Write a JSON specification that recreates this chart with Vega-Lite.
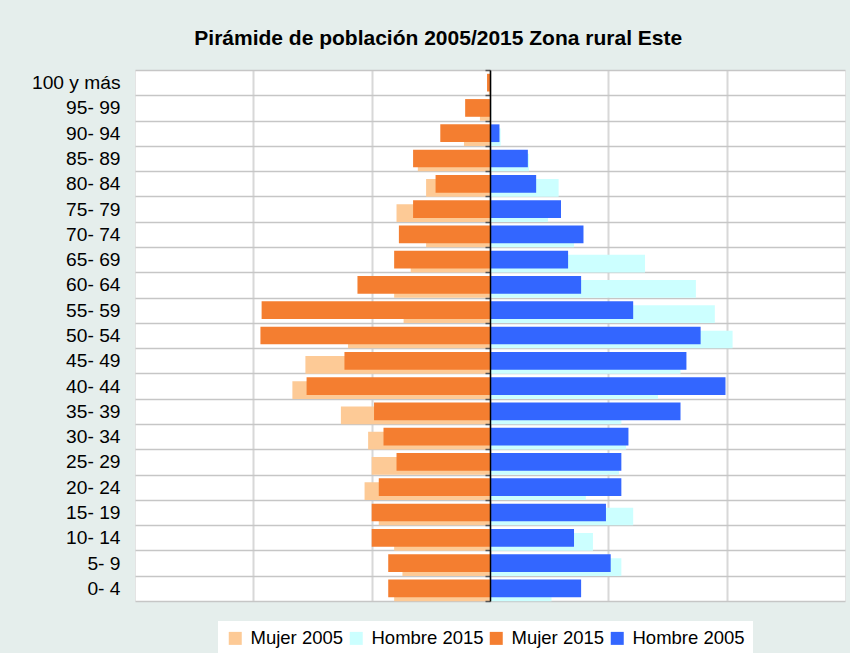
{
  "$schema": "https://vega.github.io/schema/vega-lite/v6.json",
  "width": 710,
  "height": 531,
  "autosize": "none",
  "padding": {"left": 135, "top": 70, "right": 5, "bottom": 52},
  "background": "#e5eeec",
  "title": {
    "text": "Pirámide de población 2005/2015 Zona rural Este",
    "font": "Liberation Sans",
    "fontSize": 21,
    "fontWeight": "bold",
    "color": "#000000",
    "anchor": "middle",
    "frame": "bounds",
    "baseline": "alphabetic",
    "offset": 21,
    "dy": 26
  },
  "config": {
    "view": {"fill": "#ffffff", "stroke": "#e4e4e4", "strokeWidth": 1}
  },
  "data": {
    "values": [
      {"g": "100 y más", "s": "Mujer 2005", "v": -0.01},
      {"g": "95- 99", "s": "Mujer 2005", "v": -0.085},
      {"g": "90- 94", "s": "Mujer 2005", "v": -0.22},
      {"g": "85- 89", "s": "Mujer 2005", "v": -0.61},
      {"g": "80- 84", "s": "Mujer 2005", "v": -0.54},
      {"g": "75- 79", "s": "Mujer 2005", "v": -0.79},
      {"g": "70- 74", "s": "Mujer 2005", "v": -0.54},
      {"g": "65- 69", "s": "Mujer 2005", "v": -0.67},
      {"g": "60- 64", "s": "Mujer 2005", "v": -0.81},
      {"g": "55- 59", "s": "Mujer 2005", "v": -0.73},
      {"g": "50- 54", "s": "Mujer 2005", "v": -1.20},
      {"g": "45- 49", "s": "Mujer 2005", "v": -1.56},
      {"g": "40- 44", "s": "Mujer 2005", "v": -1.67},
      {"g": "35- 39", "s": "Mujer 2005", "v": -1.26},
      {"g": "30- 34", "s": "Mujer 2005", "v": -1.03},
      {"g": "25- 29", "s": "Mujer 2005", "v": -1.00},
      {"g": "20- 24", "s": "Mujer 2005", "v": -1.06},
      {"g": "15- 19", "s": "Mujer 2005", "v": -0.94},
      {"g": "10- 14", "s": "Mujer 2005", "v": -0.81},
      {"g": "5- 9", "s": "Mujer 2005", "v": -0.74},
      {"g": "0- 4", "s": "Mujer 2005", "v": -0.81},

      {"g": "100 y más", "s": "Hombre 2015", "v": 0},
      {"g": "95- 99", "s": "Hombre 2015", "v": 0.01},
      {"g": "90- 94", "s": "Hombre 2015", "v": 0.09},
      {"g": "85- 89", "s": "Hombre 2015", "v": 0.33},
      {"g": "80- 84", "s": "Hombre 2015", "v": 0.58},
      {"g": "75- 79", "s": "Hombre 2015", "v": 0.49},
      {"g": "70- 74", "s": "Hombre 2015", "v": 0.71},
      {"g": "65- 69", "s": "Hombre 2015", "v": 1.31},
      {"g": "60- 64", "s": "Hombre 2015", "v": 1.74},
      {"g": "55- 59", "s": "Hombre 2015", "v": 1.90},
      {"g": "50- 54", "s": "Hombre 2015", "v": 2.05},
      {"g": "45- 49", "s": "Hombre 2015", "v": 1.61},
      {"g": "40- 44", "s": "Hombre 2015", "v": 1.42},
      {"g": "35- 39", "s": "Hombre 2015", "v": 1.11},
      {"g": "30- 34", "s": "Hombre 2015", "v": 1.15},
      {"g": "25- 29", "s": "Hombre 2015", "v": 1.09},
      {"g": "20- 24", "s": "Hombre 2015", "v": 0.81},
      {"g": "15- 19", "s": "Hombre 2015", "v": 1.21},
      {"g": "10- 14", "s": "Hombre 2015", "v": 0.87},
      {"g": "5- 9", "s": "Hombre 2015", "v": 1.11},
      {"g": "0- 4", "s": "Hombre 2015", "v": 0.52},

      {"g": "100 y más", "s": "Mujer 2015", "v": -0.025},
      {"g": "95- 99", "s": "Mujer 2015", "v": -0.21},
      {"g": "90- 94", "s": "Mujer 2015", "v": -0.42},
      {"g": "85- 89", "s": "Mujer 2015", "v": -0.65},
      {"g": "80- 84", "s": "Mujer 2015", "v": -0.46},
      {"g": "75- 79", "s": "Mujer 2015", "v": -0.65},
      {"g": "70- 74", "s": "Mujer 2015", "v": -0.77},
      {"g": "65- 69", "s": "Mujer 2015", "v": -0.81},
      {"g": "60- 64", "s": "Mujer 2015", "v": -1.12},
      {"g": "55- 59", "s": "Mujer 2015", "v": -1.93},
      {"g": "50- 54", "s": "Mujer 2015", "v": -1.94},
      {"g": "45- 49", "s": "Mujer 2015", "v": -1.23},
      {"g": "40- 44", "s": "Mujer 2015", "v": -1.55},
      {"g": "35- 39", "s": "Mujer 2015", "v": -0.98},
      {"g": "30- 34", "s": "Mujer 2015", "v": -0.90},
      {"g": "25- 29", "s": "Mujer 2015", "v": -0.79},
      {"g": "20- 24", "s": "Mujer 2015", "v": -0.94},
      {"g": "15- 19", "s": "Mujer 2015", "v": -1.00},
      {"g": "10- 14", "s": "Mujer 2015", "v": -1.00},
      {"g": "5- 9", "s": "Mujer 2015", "v": -0.86},
      {"g": "0- 4", "s": "Mujer 2015", "v": -0.86},

      {"g": "100 y más", "s": "Hombre 2005", "v": 0},
      {"g": "95- 99", "s": "Hombre 2005", "v": 0},
      {"g": "90- 94", "s": "Hombre 2005", "v": 0.08},
      {"g": "85- 89", "s": "Hombre 2005", "v": 0.32},
      {"g": "80- 84", "s": "Hombre 2005", "v": 0.39},
      {"g": "75- 79", "s": "Hombre 2005", "v": 0.60},
      {"g": "70- 74", "s": "Hombre 2005", "v": 0.79},
      {"g": "65- 69", "s": "Hombre 2005", "v": 0.66},
      {"g": "60- 64", "s": "Hombre 2005", "v": 0.77},
      {"g": "55- 59", "s": "Hombre 2005", "v": 1.21},
      {"g": "50- 54", "s": "Hombre 2005", "v": 1.78},
      {"g": "45- 49", "s": "Hombre 2005", "v": 1.66},
      {"g": "40- 44", "s": "Hombre 2005", "v": 1.99},
      {"g": "35- 39", "s": "Hombre 2005", "v": 1.61},
      {"g": "30- 34", "s": "Hombre 2005", "v": 1.17},
      {"g": "25- 29", "s": "Hombre 2005", "v": 1.11},
      {"g": "20- 24", "s": "Hombre 2005", "v": 1.11},
      {"g": "15- 19", "s": "Hombre 2005", "v": 0.98},
      {"g": "10- 14", "s": "Hombre 2005", "v": 0.71},
      {"g": "5- 9", "s": "Hombre 2005", "v": 1.02},
      {"g": "0- 4", "s": "Hombre 2005", "v": 0.77}
    ]
  },
  "encoding": {
    "y": {
      "field": "g",
      "type": "nominal",
      "sort": null,
      "scale": {"paddingInner": 0, "paddingOuter": 0},
      "title": null
    },
    "x": {
      "field": "v",
      "type": "quantitative",
      "scale": {"domain": [-3, 3], "nice": false, "zero": false},
      "title": null,
      "axis": {
        "values": [-2, -1, 0, 1, 2],
        "labels": false,
        "ticks": false,
        "domain": false,
        "grid": true,
        "gridColor": "#d8d8d8",
        "gridWidth": 2
      }
    },
    "color": {
      "field": "s",
      "type": "nominal",
      "scale": {
        "domain": ["Mujer 2005", "Hombre 2015", "Mujer 2015", "Hombre 2005"],
        "range": ["#fdca96", "#ccffff", "#f47e30", "#3366ff"]
      },
      "legend": {
        "title": null,
        "orient": "none",
        "direction": "horizontal",
        "legendX": 83,
        "legendY": 551,
        "fillColor": "#ffffff",
        "padding": 8,
        "symbolType": "square",
        "symbolSize": 169,
        "symbolStrokeWidth": 0,
        "symbolOpacity": 1,
        "labelFont": "Liberation Sans",
        "labelFontSize": 18.5,
        "labelColor": "#000000",
        "labelOffset": 6,
        "columnPadding": 3,
        "labelLimit": 300
      }
    }
  },
  "layer": [
    {
      "transform": [{"filter": {"field": "s", "oneOf": ["Mujer 2005", "Hombre 2015"]}}],
      "mark": {"type": "bar", "height": {"band": 0.7}, "yOffset": 4},
      "encoding": {
        "y": {
          "field": "g",
          "type": "nominal",
          "sort": null,
          "title": null,
          "axis": {
            "orient": "left",
            "labelFont": "Liberation Sans",
            "labelFontSize": 19.2,
            "labelColor": "#000000",
            "labelPadding": 15,
            "ticks": false,
            "domain": false,
            "grid": true,
            "tickBand": "extent",
            "gridColor": "#c6c6c6",
            "gridWidth": 1.5
          }
        }
      }
    },
    {
      "transform": [{"filter": {"field": "s", "oneOf": ["Mujer 2015", "Hombre 2005"]}}],
      "mark": {"type": "bar", "height": {"band": 0.7}},
      "encoding": {
        "y": {
          "field": "g",
          "type": "nominal",
          "sort": null,
          "title": null,
          "axis": {
            "orient": "left",
            "offset": -355,
            "labels": false,
            "ticks": true,
            "tickSize": 5,
            "tickColor": "#555555",
            "tickWidth": 1.5,
            "tickBand": "extent",
            "domain": true,
            "domainColor": "#000000",
            "domainWidth": 1.5,
            "grid": false,
            "zindex": 1
          }
        }
      }
    }
  ],
  "resolve": {"scale": {"y": "shared"}, "axis": {"y": "independent"}}
}
